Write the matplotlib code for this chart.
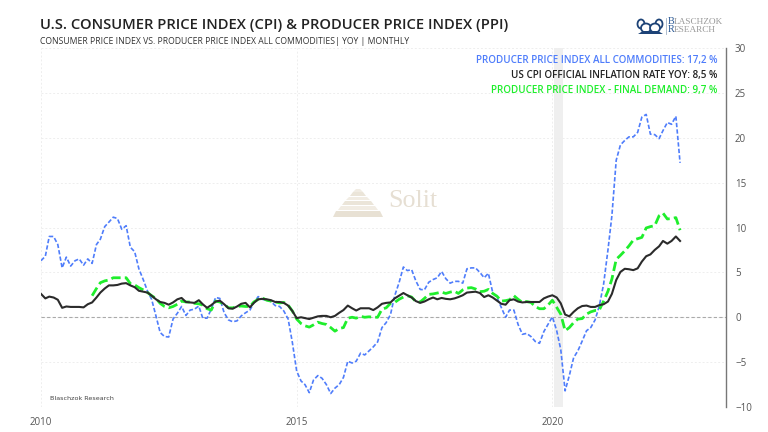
import pandas as pd
import matplotlib
matplotlib.use('Agg')
import matplotlib.pyplot as plt
from matplotlib.patches import Polygon, Ellipse

plt.rcParams['font.family'] = ['Open Sans', 'DejaVu Sans']

# monthly values, Jan 2010 - Jul 2022
ppi_all = [
    6.3, 6.8, 9.0, 9.0, 8.1, 5.5, 6.7, 5.7, 6.3, 6.5, 5.8, 6.5,
    6.0, 8.1, 8.7, 10.1, 10.6, 11.15, 11.0, 9.8, 10.2, 7.8, 7.3, 5.4,
    4.2, 2.9, 2.0, 0.15, -1.7, -2.15, -2.2, -0.2, 0.45, 1.2, 0.2, 0.8,
    0.9, 1.25, -0.1, -0.1, 0.9, 2.2, 2.1, 0.5, -0.3, -0.5, -0.4, 0.15,
    0.5, 0.8, 1.6, 2.3, 2.0, 1.9, 1.75, 1.3, 1.2, 0.7, -0.2, -2.8,
    -6.0, -7.1, -7.5, -8.4, -7.0, -6.5, -6.8, -7.5, -8.5, -7.9, -7.5, -6.7,
    -4.9, -5.1, -4.9, -4.0, -4.2, -3.75, -3.3, -2.75, -1.15, -0.6, 0.3, 2.4,
    3.85, 5.6, 5.2, 5.3, 4.05, 3.1, 3.05, 3.9, 4.2, 4.4, 5.1, 4.3,
    3.8, 4.0, 4.0, 3.8, 5.4, 5.5, 5.5, 5.0, 4.4, 4.9, 2.75, 2.2,
    1.1, 0.0, 0.8, 0.8, -0.8, -1.9, -1.8, -2.15, -2.7, -2.9, -1.6, -0.8,
    0.05, -1.5, -3.6, -8.2, -6.5, -4.5, -3.75, -2.65, -1.5, -1.15, -0.3, 1.25,
    3.7, 7.5, 11.3, 17.5, 19.2, 19.7, 20.1, 20.1, 20.6, 22.3, 22.6, 20.4,
    20.35, 19.9, 20.8, 21.7, 21.5, 22.4, 17.2,
]
cpi = [
    2.6, 2.1, 2.3, 2.2, 1.95, 1.05, 1.2, 1.15, 1.15, 1.15, 1.1, 1.45,
    1.65, 2.2, 2.75, 3.2, 3.55, 3.55, 3.6, 3.75, 3.8, 3.55, 3.35, 2.95,
    2.85, 2.75, 2.4, 2.0, 1.7, 1.6, 1.4, 1.65, 2.0, 2.15, 1.7, 1.65,
    1.6, 1.9, 1.45, 1.05, 1.35, 1.75, 1.85, 1.45, 1.0, 0.95, 1.2, 1.5,
    1.6, 1.1, 1.6, 2.0, 2.05, 2.0, 1.9, 1.7, 1.7, 1.6, 1.3, 0.7,
    -0.1, 0.0, -0.1, -0.2, -0.05, 0.1, 0.15, 0.15, 0.0, 0.15, 0.5, 0.8,
    1.3, 1.0, 0.75, 1.0, 1.0, 1.0, 0.8, 1.1, 1.5, 1.6, 1.65, 2.1,
    2.4, 2.7, 2.45, 2.2, 1.8, 1.6, 1.75, 2.0, 2.2, 2.0, 2.15, 2.05,
    2.0, 2.1, 2.25, 2.45, 2.75, 2.8, 2.85, 2.7, 2.25, 2.45, 2.2, 1.85,
    1.5, 1.4, 1.9, 2.0, 1.75, 1.65, 1.7, 1.7, 1.7, 1.7, 2.1, 2.3,
    2.45, 2.2, 1.55, 0.3, 0.1, 0.6, 1.0, 1.25, 1.3, 1.15, 1.15, 1.35,
    1.45, 1.75, 2.6, 4.15, 5.05, 5.4, 5.35, 5.25, 5.45, 6.2, 6.8, 7.0,
    7.5, 7.9, 8.5, 8.2, 8.5, 9.0, 8.5,
]
# final demand series starts Jan 2011
ppi_fd = [
    2.4, 3.2, 3.85, 4.05, 4.15, 4.4, 4.4, 4.4, 4.4, 3.75, 3.6, 3.3,
    3.05, 2.75, 2.4, 2.1, 1.55, 1.2, 1.05, 1.2, 1.45, 1.8, 1.7, 1.7,
    1.55, 1.5, 1.35, 0.95, 0.8, 1.8, 1.7, 1.45, 1.05, 1.05, 1.2, 1.25,
    1.2, 1.2, 1.7, 2.0, 2.15, 1.9, 1.8, 1.7, 1.6, 1.65, 1.35, 0.7,
    -0.2, -0.7, -0.95, -1.1, -0.85, -0.55, -0.7, -0.8, -1.15, -1.55, -1.25, -1.15,
    -0.1, 0.0, -0.1, 0.1, 0.0, 0.05, 0.0, 0.0, 0.9, 1.05, 1.55, 1.65,
    2.0, 2.25, 2.4, 2.25, 1.75, 1.7, 2.1, 2.55, 2.6, 2.7, 2.8, 2.65,
    2.8, 2.9, 2.65, 3.05, 3.25, 3.3, 3.15, 2.85, 2.9, 3.1, 2.65, 2.35,
    1.8, 1.85, 1.95, 2.4, 2.0, 1.65, 1.75, 1.65, 1.2, 0.95, 0.95, 1.35,
    1.9, 1.1, 0.35, -1.5, -1.15, -0.6, -0.2, -0.15, 0.35, 0.6, 0.75, 0.8,
    1.8, 2.9, 4.25, 6.45, 6.9, 7.4, 7.95, 8.6, 8.75, 8.9, 9.95, 10.1,
    10.2, 11.3, 11.6, 10.95, 11.0, 11.1, 9.7,
]
dates = pd.date_range('2010-01-01', periods=len(cpi), freq='MS')
dates_fd = pd.date_range('2011-01-01', periods=len(ppi_fd), freq='MS')

y_ticks = [-10, -5, 0, 5, 10, 15, 20, 25, 30]
x_ticks = pd.to_datetime(['2010-01-01', '2015-01-01', '2020-01-01'])
x_labels = ['2010', '2015', '2020']

BLUE = '#4f7dfb'
GREEN = '#1fee2c'
BLACK = '#2b2b2b'
NAVY = '#1d4377'

W, H = 768, 432
fig = plt.figure(figsize=(W / 100, H / 100), dpi=100)
ax = fig.add_axes([41 / W, 1 - 407 / H, (726 - 41) / W, (407 - 48) / H])

ax.axvspan(pd.Timestamp('2020-01-12'), pd.Timestamp('2020-03-18'), color='#efefef', lw=0, zorder=0)
ax.axhline(0, color='#aaaaaa', lw=0.8, ls=(0, (3, 2)), zorder=1)

ax.plot(dates, ppi_all, color=BLUE, lw=1.2, ls=(0, (2.6, 1.3)), zorder=3)
ax.plot(dates_fd, ppi_fd, color=GREEN, lw=2.0, ls=(0, (3.4, 1.5)), zorder=4)
ax.plot(dates, cpi, color=BLACK, lw=1.5, zorder=5)

ax.set_xlim(pd.Timestamp('2010-01-01'), pd.Timestamp('2023-05-25'))
ax.set_ylim(-10, 30)
ax.set_xticks(x_ticks)
ax.set_xticklabels(x_labels)
ax.set_yticks(y_ticks)
ax.yaxis.tick_right()
ax.tick_params(length=0, labelsize=7, labelcolor='#555555')
ax.tick_params(axis='x', pad=7)
ax.tick_params(axis='y', pad=6.5)
ax.grid(True, color='#eeeeee', lw=0.7, ls=(0, (2, 2)))
ax.set_axisbelow(True)
for s in ['left', 'top', 'bottom']:
    ax.spines[s].set_visible(False)
ax.spines['right'].set_color('#777777')
ax.spines['right'].set_linewidth(1.0)


def ftext(x, y, s, **kw):
    # pixel position from the top-left corner of the figure
    return fig.text(x / W, 1 - y / H, s, **kw)


ftext(40, 25, 'U.S. CONSUMER PRICE INDEX (CPI) & PRODUCER PRICE INDEX (PPI)',
      fontsize=10.6, color='#222222', fontweight='semibold', va='center')
ftext(40, 41, 'CONSUMER PRICE INDEX VS. PRODUCER PRICE INDEX ALL COMMODITIES| YOY | MONTHLY',
      fontsize=6.2, color='#333333', va='center')

ftext(717, 60.5, 'PRODUCER PRICE INDEX ALL COMMODITIES: 17,2 %', fontsize=7.13,
      color=BLUE, fontweight='semibold', ha='right', va='center')
ftext(717, 75.5, 'US CPI OFFICIAL INFLATION RATE YOY: 8,5 %', fontsize=7.13,
      color='#222222', fontweight='semibold', ha='right', va='center')
ftext(717, 90.5, 'PRODUCER PRICE INDEX - FINAL DEMAND: 9,7 %', fontsize=7.13,
      color=GREEN, fontweight='semibold', ha='right', va='center')

ftext(49.5, 399, 'Blaschzok Research', fontsize=4.6, color='#444444', va='center',
      family=['DejaVu Sans'])

# Solit watermark
for top, bot, left, right, col in [
    (189, 192, 353, 363, '#f1ece3'), (192, 196, 350, 366, '#ebe5d9'),
    (197, 200, 346, 370, '#f1ece3'), (201, 205, 342, 374, '#ebe5d9'),
    (206, 210, 338, 378, '#f1ece3'), (211, 217, 333, 383, '#e8e1d4'),
]:
    fig.add_artist(Polygon([(left / W, 1 - bot / H), (right / W, 1 - bot / H),
                            ((right - 3) / W, 1 - top / H), ((left + 3) / W, 1 - top / H)],
                           closed=True, transform=fig.transFigure, color=col, lw=0))
ftext(388, 201, 'Solit', fontsize=18.7, color='#e6dfd3', va='center', family=['Liberation Serif'])

# Blaschzok logo
for cx, cy, w, h in [(641, 24, 7, 9), (659, 24, 7, 9), (646, 28, 10, 9), (655, 28, 10, 9)]:
    fig.add_artist(Ellipse((cx / W, 1 - cy / H), w / W, h / H, transform=fig.transFigure,
                           fc='white', ec=NAVY, lw=1.3))
fig.add_artist(Polygon([(638 / W, 1 - 34 / H), (663 / W, 1 - 34 / H),
                        (658 / W, 1 - 31 / H), (643 / W, 1 - 31 / H)],
                       closed=True, transform=fig.transFigure, color=NAVY, lw=0))
fig.add_artist(plt.Line2D([666 / W, 666 / W], [1 - 18 / H, 1 - 34 / H], color='#9fb0c4', lw=0.6))
ftext(668, 22, 'B', fontsize=7.4, color='#2c5a96', va='center', family=['Liberation Serif'])
ftext(673.5, 22, 'LASCHZOK', fontsize=6.7, color='#9a9a9a', va='center', family=['Liberation Serif'])
ftext(668, 30, 'R', fontsize=7.4, color='#2c5a96', va='center', family=['Liberation Serif'])
ftext(673.5, 30, 'ESEARCH', fontsize=6.7, color='#9a9a9a', va='center', family=['Liberation Serif'])

fig.savefig('out.png', dpi=100)
